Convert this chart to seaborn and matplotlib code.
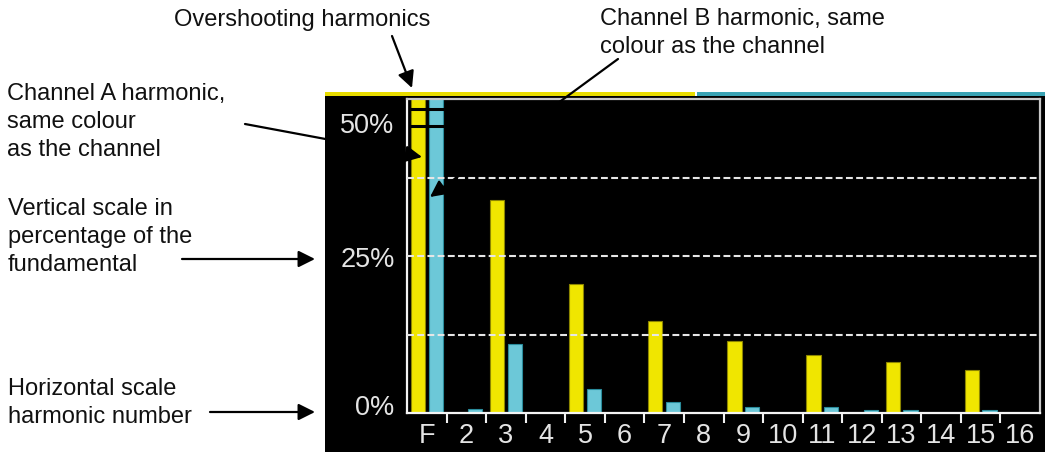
import numpy as np
import pandas as pd
import matplotlib
matplotlib.use("Agg")
import matplotlib.pyplot as plt
from matplotlib.patches import Rectangle, FancyArrowPatch
import seaborn as sns

# harmonic spectrum, % of the fundamental (F overshoots the 50% scale)
harmonics = ["F", "2", "3", "4", "5", "6", "7", "8", "9", "10", "11", "12", "13", "14", "15", "16"]
channel_a = [55, 0, 33.9, 0, 20.5, 0, 14.7, 0, 11.4, 0, 9.2, 0, 8.1, 0, 6.8, 0]
channel_b = [55, 0.6, 11.0, 0, 3.8, 0, 1.7, 0, 1.0, 0, 1.0, 0.5, 0.5, 0, 0.5, 0]
grid_levels = [12.5, 25, 37.5]
overshoot_marks = [45.7, 48.4]
ytick_pos = [1.4, 25, 46.3]
ytick_labels = ["0%", "25%", "50%"]

yellow = "#F0E600"
cyan = "#6CC8D8"

W, H = 1045, 456
fig = plt.figure(figsize=(W / 100, H / 100), dpi=100)
fig.patch.set_facecolor("white")


def fx(x):
    return x / W


def fy(y):
    return 1 - y / H


# black screen behind the chart + coloured strip on top
fig.add_artist(Rectangle((fx(325), fy(453)), fx(1045) - fx(325), fy(97) - fy(453),
                         transform=fig.transFigure, facecolor="black", edgecolor="none", zorder=-2))
fig.add_artist(Rectangle((fx(325), fy(97)), fx(695) - fx(325), fy(93) - fy(97),
                         transform=fig.transFigure, facecolor="#E8DC00", edgecolor="none", zorder=-2))
fig.add_artist(Rectangle((fx(697), fy(97)), fx(1045) - fx(697), fy(93) - fy(97),
                         transform=fig.transFigure, facecolor="#3AA3B4", edgecolor="none", zorder=-2))

ax = fig.add_axes([fx(407), fy(414), fx(1040) - fx(407), fy(100) - fy(414)])
ax.set_facecolor("black")

df = pd.DataFrame({
    "harmonic": harmonics * 2,
    "channel": ["A"] * len(harmonics) + ["B"] * len(harmonics),
    "level": channel_a + channel_b,
})
sns.barplot(data=df, x="harmonic", y="level", hue="channel", order=harmonics,
            hue_order=["A", "B"], palette={"A": yellow, "B": cyan}, saturation=1,
            width=0.9, gap=0.2, errorbar=None, legend=False, ax=ax)

for cont, ec in zip(ax.containers, ["#8C8500", "#2A8C9C"]):
    for p in cont:
        p.set_edgecolor(ec)
        p.set_linewidth(0.8)

# black notches on the overshooting fundamental bars
f_left = ax.containers[0][0].get_x()
f_right = ax.containers[1][0].get_x() + ax.containers[1][0].get_width()
ax.hlines(overshoot_marks, f_left - 0.02, f_right + 0.02, color="black", lw=2.2, zorder=4)

for g in grid_levels:
    ax.axhline(g, color="#e6e6e6", lw=1.5, dashes=(3.3, 1.6), zorder=3)

ax.set_xlim(-0.5, len(harmonics) - 0.5)
ax.set_ylim(0, 50)
ax.set_xlabel("")
ax.set_ylabel("")

ax.set_xticks(range(len(harmonics)))
ax.set_xticklabels(harmonics)
ax.set_xticks(np.arange(0.5, len(harmonics) - 1, 1), minor=True)
ax.set_yticks(ytick_pos)
ax.set_yticklabels(ytick_labels)
ax.tick_params(axis="x", which="major", length=0, pad=6.5, labelcolor="#e4e4e4", labelsize=19.5)
ax.tick_params(axis="x", which="minor", length=7, width=1.5, color="#f0f0f0", direction="out")
ax.tick_params(axis="y", length=0, pad=9, labelcolor="#e4e4e4", labelsize=19.5)
for lab in ax.get_xticklabels() + ax.get_yticklabels():
    lab.set_fontfamily(["Liberation Sans", "DejaVu Sans"])

for side in ["left", "bottom"]:
    ax.spines[side].set_color("#f4f4f4")
    ax.spines[side].set_linewidth(1.6)
for side in ["top", "right"]:
    ax.spines[side].set_color("#c8c8c8")
    ax.spines[side].set_linewidth(1.6)

# callouts
notes = [
    (["Overshooting harmonics"], 302, 26, "center"),
    (["Channel B harmonic, same", "colour as the channel"], 600, 25, "left"),
    (["Channel A harmonic,", "same colour", "as the channel"], 7, 100, "left"),
    (["Vertical scale in", "percentage of the", "fundamental"], 8, 215, "left"),
    (["Horizontal scale", "harmonic number"], 8, 395, "left"),
]
for lines, x, y, ha in notes:
    for i, line in enumerate(lines):
        fig.text(fx(x), fy(y + i * 28), line, ha=ha, va="baseline", fontsize=17,
                 color="#111111", family=["Liberation Sans", "DejaVu Sans"])

arrows = [
    ((392, 37), (412, 89)),
    ((618, 60), (430, 198)),
    ((245, 125), (422, 158)),
    ((182, 260), (315, 260)),
    ((210, 413), (315, 413)),
]
for (x0, y0), (x1, y1) in arrows:
    fig.add_artist(FancyArrowPatch((fx(x0), fy(y0)), (fx(x1), fy(y1)),
                                   transform=fig.transFigure,
                                   arrowstyle="-|>,head_length=0.5,head_width=0.25",
                                   mutation_scale=20, lw=1.6, color="black",
                                   shrinkA=0, shrinkB=0, zorder=5))

fig.savefig("out.png", dpi=100)
